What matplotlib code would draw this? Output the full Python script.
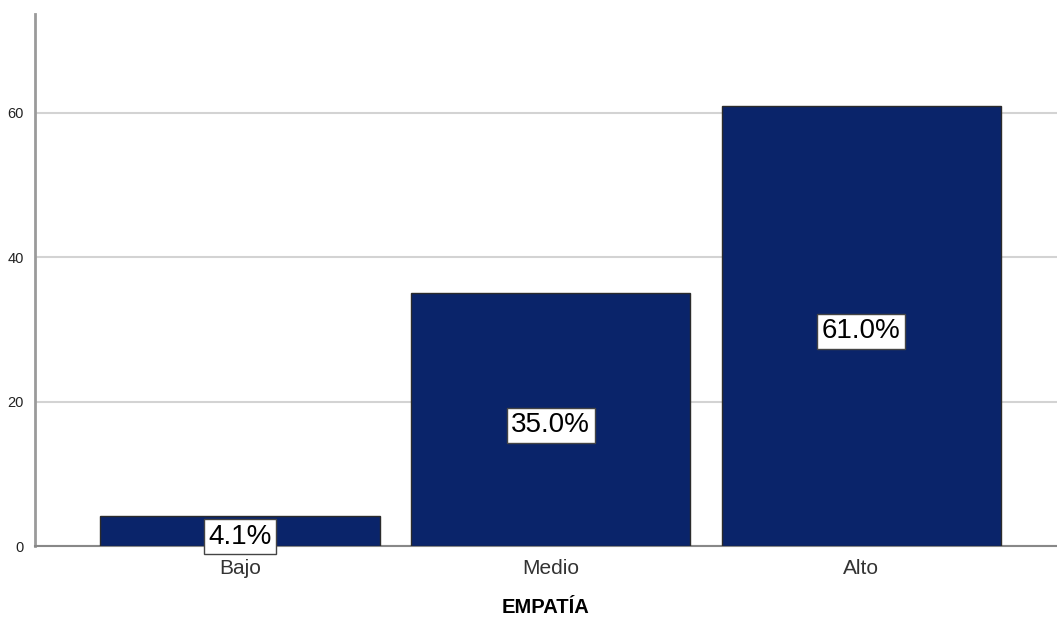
import matplotlib
matplotlib.use("Agg")
import matplotlib.pyplot as plt

# Empathy level distribution (percent of respondents)
categories = ["Bajo", "Medio", "Alto"]
percentages = [4.1, 35.0, 61.0]
y_ticks = [0, 20, 40, 60]

plt.rcParams['font.family'] = ['Liberation Sans', 'DejaVu Sans']

fig = plt.figure(figsize=(10.57, 6.18), dpi=100)
ax = fig.add_axes([0.0331, 0.1165, 0.9669, 0.8608])

x = range(len(categories))
bars = ax.bar(x, percentages, width=0.9, color='#0a246a',
              edgecolor='#2b2b2b', linewidth=1.0, zorder=3)

# value labels sit around the middle of each bar
for xi, val in zip(x, percentages):
    ax.annotate(f"{val:.1f}%", xy=(xi, val / 2), xytext=(0, -4),
                textcoords='offset points', ha='center', va='center',
                fontsize=20, color='black', zorder=4,
                bbox=dict(boxstyle='square,pad=0.16', facecolor='white',
                          edgecolor='#444444', linewidth=1.0))

ax.set_xlim(-0.66, 2.63)
ax.set_ylim(0, 73.7)
ax.set_yticks(y_ticks)
ax.set_xticks(list(x))
ax.set_xticklabels(categories, fontsize=15, color='#333333')
ax.tick_params(axis='y', labelsize=10.5, colors='#222222', length=0, pad=8)
ax.tick_params(axis='x', length=0, pad=9)
ax.yaxis.grid(True, color='#d3d3d3', linewidth=1.5, zorder=0)
ax.set_axisbelow(True)

for side in ['top', 'right']:
    ax.spines[side].set_visible(False)
ax.spines['left'].set_color('#9a9a9a')
ax.spines['left'].set_linewidth(2)
ax.spines['bottom'].set_color('#888888')
ax.spines['bottom'].set_linewidth(1.5)

ax.set_xlabel("EMPATÍA", fontsize=14.5, fontweight='bold', labelpad=15)

fig.savefig("out.png", dpi=100)
